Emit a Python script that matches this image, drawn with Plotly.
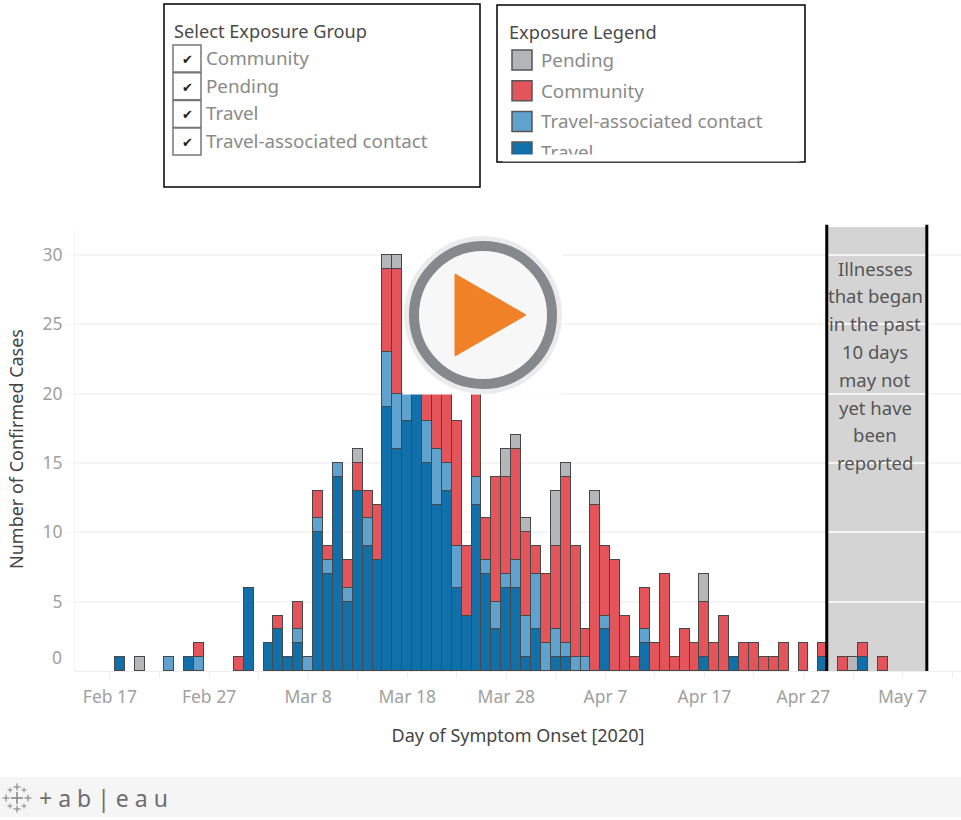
import plotly.graph_objects as go
import pandas as pd

start_date = "2020-02-17"
travel = [0,1,0,0,0,0,0,0,1,0,
          0,0,0,0,6,0,2,3,1,2,
          0,10,7,14,5,13,9,8,19,16,
          18,20,15,12,13,6,4,12,7,3,
          6,6,1,3,0,1,1,0,0,0,
          3,0,0,0,2,0,0,0,0,0,
          1,0,0,1,0,0,0,0,0,0,
          0,0,1,0,0,0,1,0,0]
contact = [0,0,0,0,0,0,1,0,0,1,
           0,0,0,0,0,0,0,0,0,1,
           1,1,1,1,1,0,2,0,4,4,
           2,0,3,4,2,3,0,2,1,2,
           1,2,3,4,2,2,1,1,1,0,
           1,0,0,0,1,0,0,0,0,0,
           0,0,0,0,0,0,0,0,0,0,
           0,0,0,0,0,0,0,0,0]
community = [0,0,0,0,0,0,0,0,0,1,
             0,0,0,1,0,0,0,1,0,2,
             0,2,1,0,2,2,2,4,6,9,
             0,0,2,4,5,9,5,6,3,9,
             7,8,6,2,5,6,12,8,2,12,
             5,8,4,1,3,2,7,1,3,2,
             4,2,4,0,2,2,1,1,2,0,
             2,0,1,0,1,0,1,0,1]
pending = [0,0,0,1,0,0,0,0,0,0,
           0,0,0,0,0,0,0,0,0,0,
           0,0,0,0,0,1,0,0,1,1,
           0,0,0,0,0,0,0,0,0,0,
           2,1,1,0,0,4,1,0,0,1,
           0,0,0,0,0,0,0,0,0,0,
           2,0,0,0,0,0,0,0,0,0,
           0,0,0,0,0,1,0,0,0]
filter_items = ["Community", "Pending", "Travel", "Travel-associated contact"]
legend_items = ["Pending", "Community", "Travel-associated contact", "Travel"]
note_lines = ["Illnesses", "that began", "in the past", "10 days", "may not", "yet have", "been", "reported"]
y_ticks = [5, 10, 15, 20, 25, 30]

FONT = "Noto Sans"
C = {"Travel": "#1170aa", "Travel-associated contact": "#5fa2ce", "Community": "#e3545b", "Pending": "#b4b6b7"}
L, T, R, B = 75, 227, 961, 671
W, H = 961, 820
px = lambda x: (x - L) / (R - L)
py = lambda y: (B - y) / (B - T)

dates = pd.date_range(start_date, periods=len(travel), freq="D")
fig = go.Figure()
for name, vals in [("Travel", travel), ("Travel-associated contact", contact),
                   ("Community", community), ("Pending", pending)]:
    fig.add_bar(x=dates, y=[v if v else None for v in vals], name=name,
                marker=dict(color=C[name], line=dict(color="#474747", width=1.5)),
                hovertemplate="%{x|%b %d}: %{y}<extra>" + name + "</extra>")

shapes, ann = [], []
def rect(x0, y0, x1, y1, fill="rgba(0,0,0,0)", line="#000", lw=1.5, layer="above", kind="rect"):
    shapes.append(dict(type=kind, xref="paper", yref="paper", x0=px(x0), x1=px(x1), y0=py(y1), y1=py(y0),
                       fillcolor=fill, line=dict(color=line, width=lw), layer=layer))
def seg(x0, y0, x1, y1, color, lw, layer="above"):
    shapes.append(dict(type="line", xref="paper", yref="paper", x0=px(x0), x1=px(x1), y0=py(y0), y1=py(y1),
                       line=dict(color=color, width=lw), layer=layer))
def text(x, y, s, size=18.8, color="#8a8a8a", anchor="left", **kw):
    ann.append(dict(xref="paper", yref="paper", x=px(x), y=py(y), text=s, showarrow=False, xanchor=anchor,
                    yanchor="middle", font=dict(family=FONT, size=size, color=color), **kw))

# grey "recent illness" band
band0 = pd.Timestamp(start_date) + pd.Timedelta(days=72.35)
band1 = pd.Timestamp(start_date) + pd.Timedelta(days=82.45)
shapes.append(dict(type="rect", xref="x", yref="paper", x0=band0, x1=band1, y0=0, y1=1,
                   fillcolor="#d4d4d4", line=dict(width=0), layer="below"))
for b in (band0, band1):
    shapes.append(dict(type="line", xref="x", yref="paper", x0=b, x1=b, y0=0, y1=1.005,
                       line=dict(color="#000", width=3), layer="above"))
for i, s in enumerate(note_lines):
    text(875, 268 + i * 27.8, s, size=18.5, color="#555555", anchor="center")

# video play overlay
rect(402.5, 236, 562, 394.6, fill="#fff", line="#fff", lw=0)
rect(404, 236, 562, 394, fill="#ebebeb", line="#ebebeb", lw=0, kind="circle")
rect(414, 246, 552, 384, fill="#f7f7f7", line="#85888c", lw=10, kind="circle")
shapes.append(dict(type="path", xref="paper", yref="paper", layer="above",
                   path=f"M {px(455)} {py(274)} L {px(526)} {py(315)} L {px(455)} {py(356)} Z",
                   fillcolor="#f08127", line=dict(color="#f08127", width=1)))

# filter panel
rect(164, 4, 480, 187)
text(171.5, 31, "Select Exposure Group", size=18.2, color="#4a4a4a")
for i, s in enumerate(filter_items):
    y = 58 + i * 27.7
    rect(173, y - 13, 201, y + 14, fill="#fff", line="#777", lw=1.5)
    text(187, y + 1, "✔", size=13, color="#222", anchor="center")
    text(203.5, y, s)

# legend panel
rect(497, 5, 805, 162)
text(506.5, 32, "Exposure Legend", size=18.2, color="#4a4a4a")
for i, s in enumerate(legend_items):
    y = 60 + i * 30.7
    rect(512, y - 10, 532, y + 10 if i < 3 else 157, fill=C[s], line="#555", lw=1.5)
    text(538.5, y, s)
ann.append(dict(xref="paper", yref="paper", x=px(651), y=py(157.5), text=" ", showarrow=False, width=296, height=6,
                bgcolor="#fff", borderpad=0, font=dict(size=2), xanchor="center", yanchor="middle"))

# toolbar
rect(0, 777, 961, 817, fill="#f5f5f5", line="#f5f5f5", lw=0)
for cx, cy, r, lw in [(17, 798, 6, 1.6), (17, 787, 3.5, 1.2), (17, 809, 3.5, 1.2), (6, 798, 3.5, 1.2), (28, 798, 3.5, 1.2),
                      (10, 790, 2.5, 1), (24, 790, 2.5, 1), (10, 806, 2.5, 1), (24, 806, 2.5, 1)]:
    seg(cx - r, cy, cx + r, cy, "#8a8a8a", lw)
    seg(cx, cy - r, cx, cy + r, "#8a8a8a", lw)
text(37, 798, "+ a b | e a u", size=23, color="#6e6e6e")

# zero label sits above the axis in the reference
text(64, 657, "0", size=17.5, color="#a0a0a0", anchor="right")

tick_vals = pd.date_range(start_date, "2020-05-12", freq="5D")
tick_text = [d.strftime("%b %-d") if i % 2 == 0 else "" for i, d in enumerate(tick_vals)]

fig.update_layout(
    width=W, height=H, margin=dict(l=L, r=W - R, t=T, b=H - B), autosize=False,
    barmode="stack", bargap=0, showlegend=False,
    plot_bgcolor="#fff", paper_bgcolor="#fff",
    font=dict(family=FONT, color="#a0a0a0", size=17.5),
    shapes=shapes, annotations=ann,
    xaxis=dict(type="date", range=[pd.Timestamp(start_date) - pd.Timedelta(days=3.53),
                                   pd.Timestamp(start_date) + pd.Timedelta(days=85.9)],
               tickmode="array", tickvals=tick_vals, ticktext=tick_text, ticks="outside", ticklen=6, tickcolor="#eeeeee",
               ticklabelstandoff=4,
               showgrid=False, showline=True, linecolor="#eeeeee", zeroline=False, tickangle=0,
               title=dict(text="Day of Symptom Onset [2020]", font=dict(size=18, color="#444444"), standoff=22)),
    yaxis=dict(range=[0, 32], tickmode="array", tickvals=y_ticks, ticks="outside", ticklen=8, tickcolor="#f5f5f5",
               showgrid=True, gridcolor="#f5f5f5",
               gridwidth=1.5, zeroline=False, showline=True, linecolor="#f5f5f5",
               title=dict(text="Number of Confirmed Cases", font=dict(size=18, color="#444444"), standoff=14)),
)
fig.write_html("out.html", config={"displayModeBar": False},
               post_script="document.body.style.margin='0';document.body.style.overflow='hidden';")
